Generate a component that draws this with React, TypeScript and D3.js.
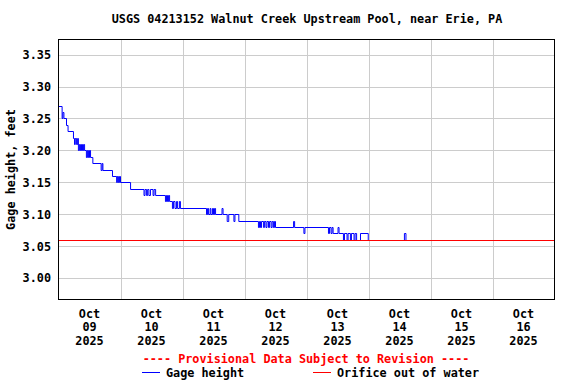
import * as d3 from "d3";
import { useEffect, useRef } from "react";

// hours after Oct 09 2025 00:00, and gage height (ft) starting at that time
const gageHours = [
  0, 1.4, 1.7, 2.1, 3.1, 3.7, 5.8, 6.2, 6.5, 7.0, 7.4, 7.7, 8.1, 8.5, 8.9, 9.3, 9.7, 10.1,
  10.8, 11.2, 11.6, 12.0, 12.4, 13.3, 16.5, 16.9, 17.2, 20.9, 22.5, 22.8, 23.2, 23.6, 24.0,
  27.9, 33.1, 33.5, 34.1, 34.5, 35.0, 35.6, 36.6, 37.0, 37.6, 41.4, 41.8, 42.2, 42.6, 43.0,
  44.1, 44.5, 45.1, 45.7, 46.1, 46.8, 47.2, 57.3, 57.7, 58.1, 58.7, 59.0, 59.6, 60.0, 60.4,
  60.8, 63.3, 63.7, 65.3, 65.9, 67.9, 68.3, 69.8, 77.4, 77.8, 78.2, 78.6, 79.4, 79.7, 80.3,
  80.7, 81.3, 81.7, 82.3, 82.7, 83.2, 83.6, 84.0, 91.0, 91.4, 95.0, 95.4, 104.5, 104.9,
  105.5, 105.9, 106.3, 108.2, 108.6, 110.3, 110.7, 111.7, 112.1, 113.0, 113.4, 114.4,
  114.8, 115.4, 116.9, 119.9, 133.9, 134.5, 134.7,
];
const gageFeet = [
  3.27, 3.25, 3.26, 3.25, 3.24, 3.23, 3.22, 3.21, 3.22, 3.21, 3.22, 3.2, 3.21, 3.2, 3.21, 3.2, 3.21, 3.2,
  3.19, 3.2, 3.19, 3.2, 3.19, 3.18, 3.17, 3.18, 3.17, 3.16, 3.15, 3.16, 3.15, 3.16, 3.15,
  3.14, 3.13, 3.14, 3.13, 3.14, 3.13, 3.14, 3.13, 3.14, 3.13, 3.12, 3.13, 3.12, 3.13, 3.12,
  3.11, 3.12, 3.11, 3.12, 3.11, 3.12, 3.11, 3.1, 3.11, 3.1, 3.11, 3.1, 3.11, 3.1, 3.11,
  3.1, 3.11, 3.1, 3.09, 3.1, 3.09, 3.1, 3.09, 3.08, 3.09, 3.08, 3.09, 3.08, 3.09, 3.08,
  3.09, 3.08, 3.09, 3.08, 3.09, 3.08, 3.09, 3.08, 3.09, 3.08, 3.07, 3.08, 3.07, 3.08,
  3.07, 3.08, 3.07, 3.08, 3.07, 3.06, 3.07, 3.06, 3.07, 3.06, 3.07, 3.06,
  3.07, 3.06, 3.07, 3.06, 3.07, 3.06, 3.06,
];
const orificeFeet = [3.06];
const yTicks = [3.0, 3.05, 3.1, 3.15, 3.2, 3.25, 3.3, 3.35];
const dayLabels = ["09", "10", "11", "12", "13", "14", "15", "16"];

const FONT = "'DejaVu Sans Mono', monospace";

export default function App() {
  const svgRef = useRef(null);

  useEffect(() => {
    const width = 576;
    const height = 384;
    const left = 58.5;
    const right = 554.5;
    const top = 39.5;
    const bottom = 299.5;

    const svg = d3.select(svgRef.current);
    svg.selectAll("*").remove();
    svg.attr("width", width).attr("height", height);

    const start = new Date(2025, 9, 9);
    const end = d3.timeDay.offset(start, dayLabels.length);
    const days = d3.timeDay.range(start, end);

    const x = d3.scaleTime().domain([start, end]).range([left, right]);
    const y = d3.scaleLinear().domain([2.9661, 3.3739]).range([bottom, top]);

    const data = gageHours.map((h, i) => ({
      t: new Date(start.getTime() + h * 3600 * 1000),
      v: gageFeet[i],
    }));

    svg.append("rect").attr("width", width).attr("height", height).attr("fill", "#fff");

    // grid
    const grid = svg.append("g").attr("stroke", "#cccccc").attr("stroke-width", 1);
    grid
      .selectAll("line.h")
      .data(yTicks)
      .enter()
      .append("line")
      .attr("x1", left)
      .attr("x2", right)
      .attr("y1", (d) => Math.round(y(d)) + 0.5)
      .attr("y2", (d) => Math.round(y(d)) + 0.5);
    grid
      .selectAll("line.v")
      .data(days.slice(1))
      .enter()
      .append("line")
      .attr("x1", (d) => Math.round(x(d)) + 0.5)
      .attr("x2", (d) => Math.round(x(d)) + 0.5)
      .attr("y1", top)
      .attr("y2", bottom);

    // gage height line
    const line = d3
      .line()
      // @ts-expect-error
      .x((d) => x(d.t))
      // @ts-expect-error
      .y((d) => Math.round(y(d.v)) + 0.5)
      .curve(d3.curveStepAfter);
    svg
      .append("path")
      .datum(data)
      // @ts-expect-error
      .attr("d", line)
      .attr("fill", "none")
      .attr("stroke", "#0000ff")
      .attr("stroke-width", 1);

    // orifice out of water
    svg
      .selectAll("line.orifice")
      .data(orificeFeet)
      .enter()
      .append("line")
      .attr("x1", left)
      .attr("x2", right)
      .attr("y1", (d) => Math.round(y(d)) + 0.5)
      .attr("y2", (d) => Math.round(y(d)) + 0.5)
      .attr("stroke", "#ff0000")
      .attr("stroke-width", 1);

    // frame
    svg
      .append("rect")
      .attr("x", left)
      .attr("y", top)
      .attr("width", right - left)
      .attr("height", bottom - top)
      .attr("fill", "none")
      .attr("stroke", "#000");

    const txt = (g) =>
      g.attr("font-family", FONT).attr("font-weight", "bold").attr("font-size", 11.8).attr("fill", "#000");

    // title
    svg
      .append("text")
      .call(txt)
      .attr("x", 307)
      .attr("y", 23)
      .attr("text-anchor", "middle")
      .text("USGS 04213152 Walnut Creek Upstream Pool, near Erie, PA");

    // y tick labels
    svg
      .selectAll("text.yt")
      .data(yTicks)
      .enter()
      .append("text")
      .call(txt)
      .attr("x", 51)
      .attr("y", (d) => y(d) + 4.5)
      .attr("text-anchor", "end")
      .text((d) => d3.format(".2f")(d));

    // y axis title
    svg
      .append("text")
      .call(txt)
      .attr("transform", `translate(15,${(top + bottom) / 2}) rotate(-90)`)
      .attr("text-anchor", "middle")
      .text("Gage height, feet");

    // x tick labels, centred on each day
    const xl = svg
      .selectAll("g.xl")
      .data(days)
      .enter()
      .append("g")
      .attr("transform", (d) => `translate(${x(d3.timeHour.offset(d, 12))},0)`);
    xl.append("text").call(txt).attr("y", 318).attr("text-anchor", "middle").text("Oct");
    xl.append("text")
      .call(txt)
      .attr("y", 331)
      .attr("text-anchor", "middle")
      .text((d, i) => dayLabels[i]);
    xl.append("text").call(txt).attr("y", 344.5).attr("text-anchor", "middle").text("2025");

    // provisional note
    svg
      .append("text")
      .call(txt)
      .attr("x", 306)
      .attr("y", 363)
      .attr("text-anchor", "middle")
      .attr("fill", "#ff0000")
      .text("---- Provisional Data Subject to Revision ----");

    // legend
    const legend = [
      { label: "Gage height", color: "#0000ff", x: 142 },
      { label: "Orifice out of water", color: "#ff0000", x: 313 },
    ];
    const lg = svg
      .selectAll("g.lg")
      .data(legend)
      .enter()
      .append("g")
      .attr("transform", (d) => `translate(${d.x},0)`);
    lg.append("line")
      .attr("x1", 0)
      .attr("x2", 18)
      .attr("y1", 372.5)
      .attr("y2", 372.5)
      .attr("stroke", (d) => d.color);
    lg.append("text")
      .call(txt)
      .attr("x", 24)
      .attr("y", 377)
      .text((d) => d.label);
  }, []);

  return (
    <svg ref={svgRef} style={{ position: "absolute", left: 0, top: 0, display: "block" }}></svg>
  );
}
